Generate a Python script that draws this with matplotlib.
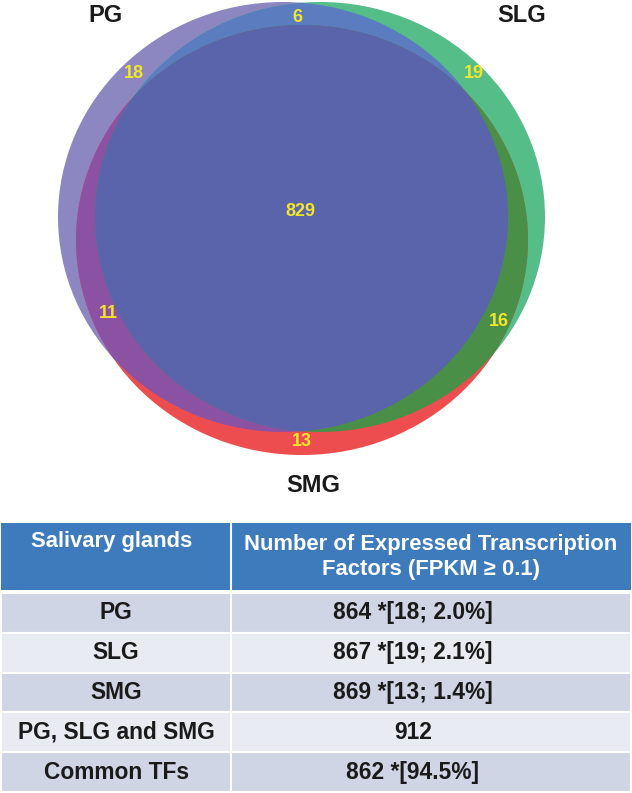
import numpy as np
import matplotlib.pyplot as plt
from matplotlib.patches import Ellipse, Polygon, Rectangle

# venn counts (region -> number of TFs)
set_names = ["PG", "SLG", "SMG"]
only_counts = [18, 19, 13]          # PG only, SLG only, SMG only
pair_counts = [6, 11, 16]           # PG&SLG, PG&SMG, SLG&SMG
common_count = 829

# table
glands = ["PG", "SLG", "SMG", "PG, SLG and SMG", "Common TFs"]
tf_totals = [864, 867, 869, 912, 862]
tf_unique = [18, 19, 13, None, None]
tf_percent = [2.0, 2.1, 1.4, None, 94.5]

FONT = ["Liberation Sans", "DejaVu Sans"]

fig = plt.figure(figsize=(6.32, 7.93), dpi=100)
ax = fig.add_axes([0, 0, 1, 1])
ax.set_xlim(0, 632)
ax.set_ylim(793, 0)
ax.axis("off")

# ellipse geometry in pixel units: (cx, cy, half width, half height)
geo = {"PG": (283, 217, 225, 215),
       "SLG": (320, 217, 225, 215),
       "SMG": (302, 240, 226, 215)}

col_only = {"PG": "#8c87c0", "SLG": "#55bd87", "SMG": "#ee4d50"}
col_pg_slg = "#5b7dc0"
col_pg_smg = "#8b52a3"
col_slg_smg = "#4a8f47"
col_all = "#5a64ab"


def ell(name, color, **kw):
    cx, cy, a, b = geo[name]
    return Ellipse((cx, cy), 2 * a, 2 * b, facecolor=color, edgecolor="none",
                   transform=ax.transData, **kw)


def inside(x, y, name):
    cx, cy, a, b = geo[name]
    return ((x - cx) / a) ** 2 + ((y - cy) / b) ** 2 <= 1.0


def boundary(name, n=1440):
    cx, cy, a, b = geo[name]
    t = np.linspace(0, 2 * np.pi, n, endpoint=False)
    return cx + a * np.cos(t), cy + b * np.sin(t)


for s in set_names:
    ax.add_patch(ell(s, col_only[s]))

p = ax.add_patch(ell("PG", col_pg_slg))
p.set_clip_path(ell("SLG", "none"))
p = ax.add_patch(ell("PG", col_pg_smg))
p.set_clip_path(ell("SMG", "none"))
p = ax.add_patch(ell("SLG", col_slg_smg))
p.set_clip_path(ell("SMG", "none"))

# PG & SLG intersection polygon, then clipped to SMG
x1, y1 = boundary("PG")
x2, y2 = boundary("SLG")
m1 = inside(x1, y1, "SLG")
m2 = inside(x2, y2, "PG")
px = np.concatenate([x1[m1], x2[m2]])
py = np.concatenate([y1[m1], y2[m2]])
order = np.argsort(np.arctan2(py - py.mean(), px - px.mean()))
poly = Polygon(np.column_stack([px[order], py[order]]), closed=True,
               facecolor=col_all, edgecolor="none")
ax.add_patch(poly)
poly.set_clip_path(ell("SMG", "none"))

# set names
name_pos = {"PG": (106, 15), "SLG": (522, 15), "SMG": (313, 485)}
for s in set_names:
    ax.text(*name_pos[s], s, ha="center", va="center", fontsize=17,
            fontweight="bold", color="#1a1a1a", family=FONT)

# region numbers
yellow = "#f2e62c"
num_pos = [(134, 74), (474, 74), (302, 442),   # only
           (297, 17), (108, 314), (499, 321)]  # pairs
for (x, y), v in zip(num_pos, only_counts + pair_counts):
    ax.text(x, y, str(v), ha="center", va="center", fontsize=13,
            fontweight="bold", color=yellow, family=FONT)
ax.text(300, 211, str(common_count), ha="center", va="center", fontsize=13,
        fontweight="bold", color=yellow, family=FONT)

# table
left, split, right = 1, 231, 631
head_top, head_bot = 523, 590
row_top, row_h = 593, 39.8
head_col = "#3e7bbd"
row_cols = ["#cfd5e4", "#e8ebf2"]

ax.add_patch(Rectangle((left, head_top), right - left, head_bot - head_top,
                       facecolor=head_col, edgecolor="none"))
ax.plot([split, split], [head_top, head_bot], color="white", lw=1.5)
ax.text(112, 542, "Salivary glands", ha="center", va="center", fontsize=15.8,
        fontweight="bold", color="white", family=FONT)
ax.text(431, 557, "Number of Expressed Transcription\nFactors (FPKM \u2265 0.1)",
        ha="center", va="center", fontsize=15.8, fontweight="bold",
        color="white", family=FONT, linespacing=1.3)

for i, g in enumerate(glands):
    y0 = row_top + i * row_h
    ax.add_patch(Rectangle((left, y0), right - left, row_h,
                           facecolor=row_cols[i % 2], edgecolor="white", lw=1.5))
    ax.plot([split, split], [y0, y0 + row_h], color="white", lw=1.5)
    if tf_unique[i] is not None:
        txt = f"{tf_totals[i]} *[{tf_unique[i]}; {tf_percent[i]:.1f}%]"
    elif tf_percent[i] is not None:
        txt = f"{tf_totals[i]} *[{tf_percent[i]:.1f}%]"
    else:
        txt = str(tf_totals[i])
    yc = y0 + row_h / 2
    ax.text(116, yc, g, ha="center", va="center", fontsize=16.4,
            fontweight="bold", color="#1a1a1a", family=FONT)
    ax.text(413, yc, txt, ha="center", va="center", fontsize=16.4,
            fontweight="bold", color="#1a1a1a", family=FONT)

fig.savefig("out.png", dpi=100)
